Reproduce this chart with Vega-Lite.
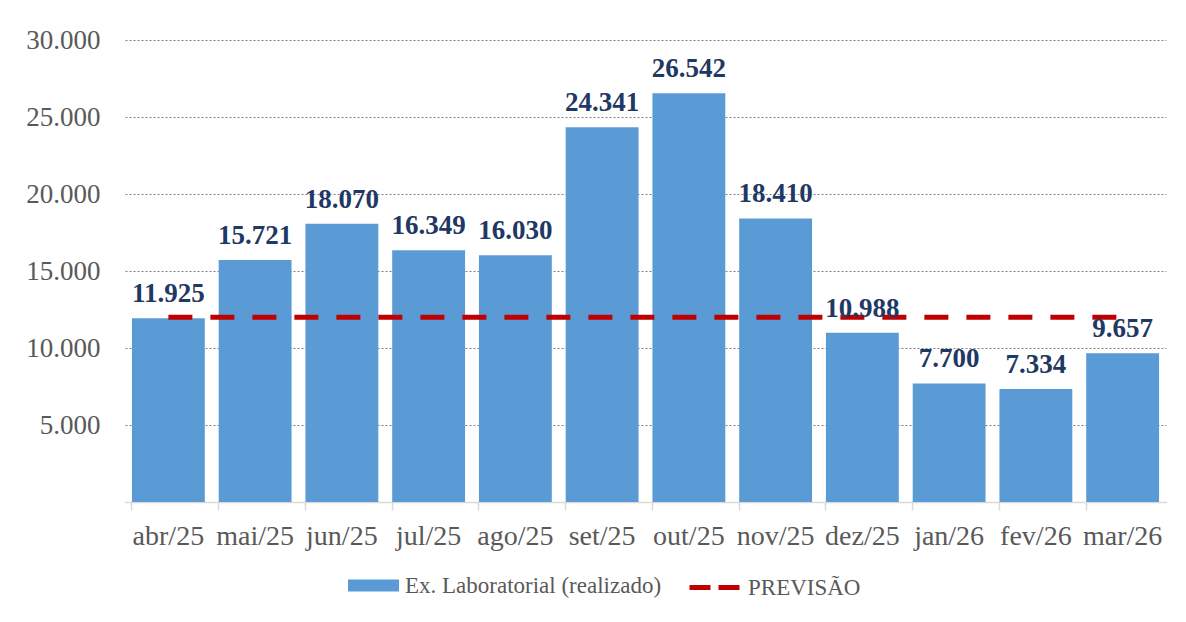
{
  "$schema": "https://vega.github.io/schema/vega-lite/v6.json",
  "width": 1041,
  "height": 462,
  "autosize": {"type": "none"},
  "padding": {"left": 125, "top": 40, "right": 20, "bottom": 120},
  "background": "white",
  "config": {
    "font": "Liberation Serif",
    "view": {"stroke": null},
    "locale": {"number": {"decimal": ",", "thousands": ".", "grouping": [3], "currency": ["R$", ""]}}
  },
  "data": {
    "values": [
      {"mes": "abr/25", "valor": 11925, "previsao": 12000},
      {"mes": "mai/25", "valor": 15721, "previsao": 12000},
      {"mes": "jun/25", "valor": 18070, "previsao": 12000},
      {"mes": "jul/25", "valor": 16349, "previsao": 12000},
      {"mes": "ago/25", "valor": 16030, "previsao": 12000},
      {"mes": "set/25", "valor": 24341, "previsao": 12000},
      {"mes": "out/25", "valor": 26542, "previsao": 12000},
      {"mes": "nov/25", "valor": 18410, "previsao": 12000},
      {"mes": "dez/25", "valor": 10988, "previsao": 12000},
      {"mes": "jan/26", "valor": 7700, "previsao": 12000},
      {"mes": "fev/26", "valor": 7334, "previsao": 12000},
      {"mes": "mar/26", "valor": 9657, "previsao": 12000}
    ]
  },
  "encoding": {
    "x": {
      "field": "mes", "type": "nominal", "sort": null,
      "scale": {"paddingInner": 0.16, "paddingOuter": 0.08},
      "axis": {
        "title": null, "labelAngle": 0, "labelFontSize": 28, "labelColor": "#595959",
        "labelFont": "Liberation Serif",
        "labelPadding": 12, "domainColor": "#D9D9D9", "domainWidth": 1.5, "tickColor": "#D9D9D9",
        "tickWidth": 1.5, "tickSize": 8, "bandPosition": 0, "grid": false
      }
    }
  },
  "layer": [
    {
      "mark": {"type": "bar", "color": "#5B9BD5"},
      "encoding": {
        "y": {
          "field": "valor", "type": "quantitative",
          "scale": {"domain": [0, 30000]},
          "axis": {
            "title": null, "values": [0, 5000, 10000, 15000, 20000, 25000, 30000],
            "labelExpr": "datum.value == 0 ? '' : format(datum.value, ',')",
            "labelFont": "Liberation Serif",
            "labelFontSize": 27, "labelColor": "#595959", "labelPadding": 25,
            "domain": false, "ticks": false,
            "gridColor": "#7F7F7F", "gridDash": [2, 2], "gridWidth": 1
          }
        },
        "fill": {
          "datum": "Ex. Laboratorial (realizado)",
          "scale": {"range": ["#5B9BD5"]},
          "legend": {
            "title": null, "orient": "none", "direction": "horizontal",
            "legendX": 223, "legendY": 520,
            "symbolType": "M-1,-0.235H1V0.235H-1Z", "symbolSize": 2601,
            "symbolStrokeWidth": 0, "symbolOpacity": 1, "labelOffset": 6,
            "labelFont": "Liberation Serif",
            "labelFontSize": 23, "labelColor": "#595959", "labelLimit": 400
          }
        }
      }
    },
    {
      "mark": {"type": "line", "strokeWidth": 5, "strokeDash": [24, 18]},
      "encoding": {
        "y": {"field": "previsao", "type": "quantitative"},
        "stroke": {
          "datum": "PREVISÃO",
          "scale": {"range": ["#C00000"]},
          "legend": {
            "title": null, "orient": "none", "direction": "horizontal",
            "legendX": 562, "legendY": 520,
            "symbolType": "stroke", "symbolSize": 2500, "symbolStrokeWidth": 5,
            "symbolDash": [21, 8], "labelOffset": 6,
            "labelFont": "Liberation Serif",
            "labelFontSize": 23, "labelColor": "#595959", "labelLimit": 400
          }
        }
      }
    },
    {
      "mark": {"type": "text", "font": "Liberation Serif", "fontWeight": "bold", "fontSize": 27, "color": "#1F3864", "baseline": "alphabetic", "dy": -16},
      "encoding": {
        "y": {"field": "valor", "type": "quantitative"},
        "text": {"field": "valor", "type": "quantitative", "format": ","}
      }
    }
  ]
}
